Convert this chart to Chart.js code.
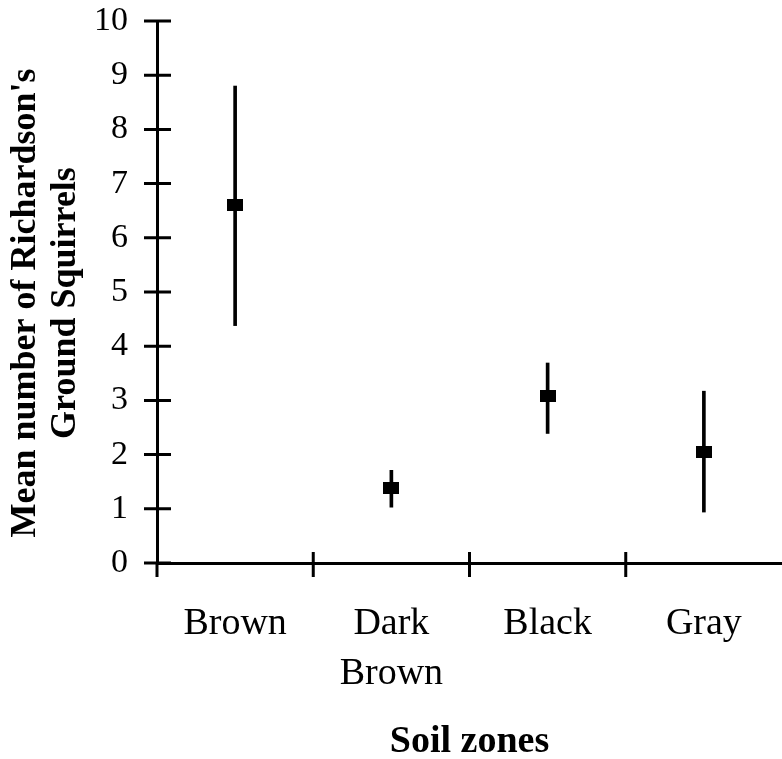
<!DOCTYPE html>
<html>
<head>
<meta charset="utf-8">
<script src="https://cdn.jsdelivr.net/npm/chart.js@4/dist/chart.umd.min.js"></script>
<style>
  html, body { margin: 0; padding: 0; background: #fff; }
  #wrap { width: 782px; height: 759px; position: relative; }
</style>
</head>
<body>
<div id="wrap"><canvas id="chart"></canvas></div>
<script>
// Soil zone means with error bar ends
const zones = ['Brown', ['Dark', 'Brown'], 'Black', 'Gray'];
const means = [6.6, 1.38, 3.08, 2.05];
const lows  = [4.38, 1.03, 2.39, 0.94];
const highs = [8.8, 1.71, 3.69, 3.17];
const yTicks = [0, 1, 2, 3, 4, 5, 6, 7, 8, 9, 10];
const yTitle = ["Mean number of Richardson's", 'Ground Squirrels'];

const SERIF = "'Liberation Serif', 'Times New Roman', serif";

// 16x12 filled rectangle used as the mean marker
const marker = document.createElement('canvas');
marker.width = 16;
marker.height = 12;
const mctx = marker.getContext('2d');
mctx.fillStyle = '#000';
mctx.fillRect(0, 0, 16, 12);

// Tick crosses on both axes, the stub of the y axis below zero, and the y title
const crossTicks = {
  id: 'crossTicks',
  afterDraw(chart) {
    const { ctx, scales: { x, y } } = chart;
    ctx.save();
    ctx.strokeStyle = '#000';
    ctx.lineWidth = 3;
    ctx.beginPath();
    const x0 = x.left;
    yTicks.forEach(v => {
      const py = y.getPixelForValue(v);
      ctx.moveTo(x0 - 13, py);
      ctx.lineTo(x0 + 14, py);
    });
    const y0 = y.getPixelForValue(0);
    const step = x.getPixelForValue(1) - x.getPixelForValue(0);
    for (let i = 0; i < zones.length; i++) {
      const px = x.getPixelForValue(i) - step / 2;
      ctx.moveTo(px, i === 0 ? y0 : y0 - 11);
      ctx.lineTo(px, y0 + 14);
    }
    ctx.stroke();

    // rotated two-line axis title, centred a little below the plot middle
    ctx.translate(35, 303);
    ctx.rotate(-Math.PI / 2);
    ctx.fillStyle = '#000';
    ctx.font = `bold 36px ${SERIF}`;
    ctx.textAlign = 'center';
    ctx.textBaseline = 'alphabetic';
    yTitle.forEach((line, i) => ctx.fillText(line, 0, i * 40));
    ctx.restore();
  },
};

new Chart(document.getElementById('chart'), {
  data: {
    labels: zones,
    datasets: [
      {
        type: 'bar',
        label: 'range',
        data: lows.map((lo, i) => [lo, highs[i]]),
        backgroundColor: '#000',
        borderWidth: 0,
        barThickness: 3,
        order: 2,
      },
      {
        type: 'line',
        label: 'mean',
        data: means,
        showLine: false,
        pointStyle: marker,
        pointRadius: 8,
        order: 1,
      },
    ],
  },
  options: {
    responsive: true,
    maintainAspectRatio: false,
    animation: false,
    layout: { autoPadding: false, padding: { top: 21, right: -2, bottom: 0, left: 0 } },
    plugins: { legend: { display: false }, tooltip: { enabled: false } },
    scales: {
      x: {
        offset: true,
        grid: { display: false },
        border: { display: true, color: '#000', width: 3 },
        ticks: {
          color: '#000',
          font: { family: SERIF, size: 38, lineHeight: 1.29 },
          padding: 29,
          maxRotation: 0,
          autoSkip: false,
        },
        title: {
          display: true,
          text: 'Soil zones',
          color: '#000',
          font: { family: SERIF, size: 38, weight: 'bold', lineHeight: 0.9 },
          padding: { top: 0, bottom: 0 },
        },
        afterFit: s => { s.height = 196; s.paddingLeft = 0; s.paddingRight = 0; },
      },
      y: {
        min: 0,
        max: 10,
        grid: { display: false },
        border: { display: true, color: '#000', width: 3 },
        afterBuildTicks: s => { s.ticks = yTicks.map(v => ({ value: v })); },
        ticks: {
          color: '#000',
          font: { family: SERIF, size: 34 },
          padding: 21,
        },
        afterFit: s => { s.width = 157; s.paddingTop = 0; s.paddingBottom = 0; },
      },
    },
  },
  plugins: [crossTicks],
});
</script>
</body>
</html>
